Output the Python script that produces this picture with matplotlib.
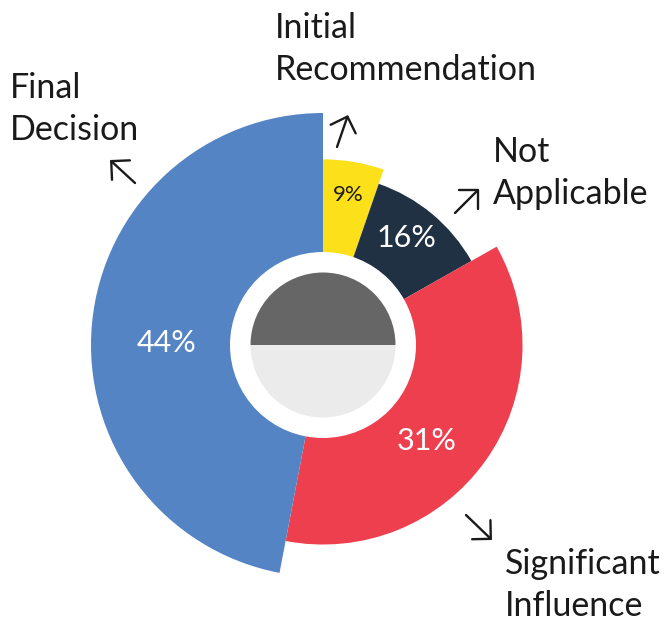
import numpy as np
import matplotlib.pyplot as plt
from matplotlib.patches import Wedge, Circle

# slices, clockwise from 12 o'clock
categories = ['Initial\nRecommendation', 'Not\nApplicable', 'Significant\nInfluence', 'Final\nDecision']
pct_labels = [9, 16, 31, 44]
# angular share actually drawn in the picture (percent of full turn)
span_share = [5.3, 11.5, 36.2, 47.0]
# relative outer radius of each slice (largest = 1)
slice_radius = [0.80, 0.735, 0.86, 1.0]
colors = ['#FCE019', '#1F3142', '#EE3F4F', '#5584C4']

plt.rcParams['font.family'] = ['Lato', 'DejaVu Sans']

fig = plt.figure(figsize=(6.65, 6.2), dpi=100)
ax = fig.add_axes([0, 0, 1, 1])
# one unit = one pixel, centre of the donut at the origin
ax.set_xlim(-323, 342)
ax.set_ylim(-275, 345)
ax.set_aspect('equal')
ax.axis('off')

R = 232
hole = 93
# label placement tweaks (angle nudge in deg, radius in px)
lbl_nudge = [0, -2, 7, -4.7]
lbl_rad = [152, 136, 141, 156]
pct_colors = ['#1a1a1a', 'white', 'white', 'white']
pct_sizes = [16, 22, 22, 22]

start = 0.0
for i, share in enumerate(span_share):
    end = start + share * 3.6
    r = R * slice_radius[i]
    ax.add_patch(Wedge((0, 0), r, 90 - end, 90 - start, color=colors[i], lw=0))
    mid = np.deg2rad(90 - ((start + end) / 2 + lbl_nudge[i]))
    ax.text(lbl_rad[i] * np.cos(mid), lbl_rad[i] * np.sin(mid), f'{pct_labels[i]}%',
            color=pct_colors[i], fontsize=pct_sizes[i], ha='center', va='center', zorder=5)
    start = end

ax.add_patch(Circle((0, 0), hole, color='white', lw=0))
ax.add_patch(Wedge((0, 0), 72.5, 0, 180, color='#666666', lw=0))
ax.add_patch(Wedge((0, 0), 72.5, 180, 360, color='#EBEBEB', lw=0))

# outer labels
lab_kw = dict(fontsize=24.5, color='#1a1a1a', ha='left', va='center', linespacing=1.35)
ax.text(-48, 296, categories[0], **lab_kw)
ax.text(170, 172, categories[1], **lab_kw)
ax.text(182, -240, categories[2], **lab_kw)
ax.text(-313, 236, categories[3], **lab_kw)

# small open arrows next to the labels (tail, head)
arrows = [((14, 198), (25, 230)),
          ((132, 132), (156, 156)),
          ((143, -170), (169, -195)),
          ((-188, 162), (-213, 185))]
for tail, head in arrows:
    ax.annotate('', xy=head, xytext=tail,
                arrowprops=dict(arrowstyle='->, head_length=0.95, head_width=0.95',
                                lw=1.7, color='#1a1a1a', shrinkA=0, shrinkB=0,
                                mutation_scale=10))

fig.savefig('out.png', dpi=100)
